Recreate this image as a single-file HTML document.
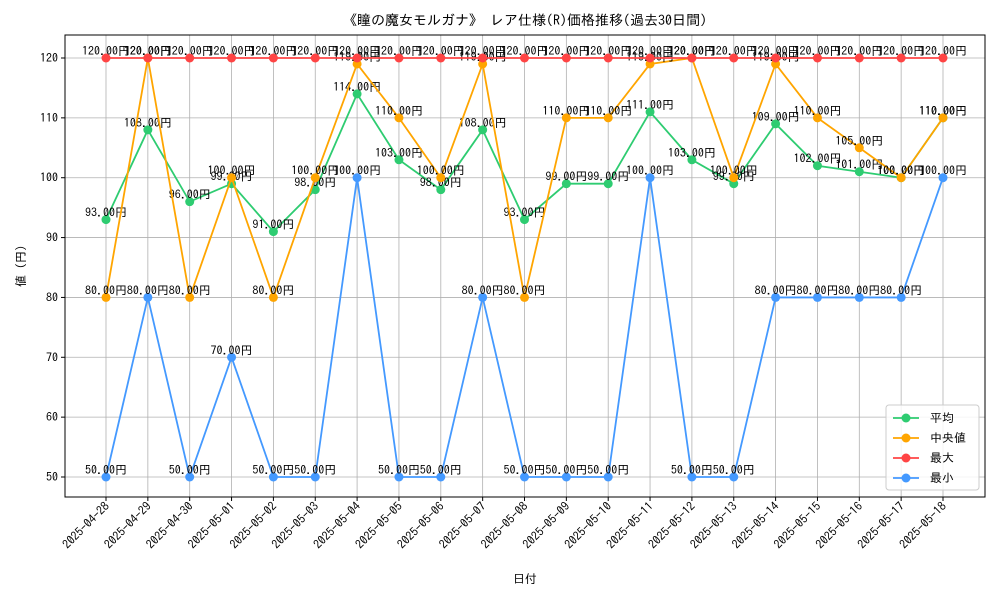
<!DOCTYPE html>
<html><head><meta charset="utf-8"><style>
body{margin:0;background:#fff}
svg text{font-family:"IPAGothic","Noto Sans CJK JP",sans-serif}
</style></head><body>
<svg id="chart" width="1000" height="600" xmlns="http://www.w3.org/2000/svg"></svg>
<script>
const dates=["2025-04-28","2025-04-29","2025-04-30","2025-05-01","2025-05-02","2025-05-03","2025-05-04","2025-05-05","2025-05-06","2025-05-07","2025-05-08","2025-05-09","2025-05-10","2025-05-11","2025-05-12","2025-05-13","2025-05-14","2025-05-15","2025-05-16","2025-05-17","2025-05-18"];
const avgVals=[93,108,96,99,91,98,114,103,98,108,93,99,99,111,103,99,109,102,101,100,110];
const medianVals=[80,120,80,100,80,100,119,110,100,119,80,110,110,119,120,100,119,110,105,100,110];
const maxVals=[120,120,120,120,120,120,120,120,120,120,120,120,120,120,120,120,120,120,120,120,120];
const minVals=[50,80,50,70,50,50,100,50,50,80,50,50,50,100,50,50,80,80,80,80,100];
const yTicks=[50,60,70,80,90,100,110,120];

const svg=document.getElementById('chart');
const NS='http://www.w3.org/2000/svg';
const L=65,R=985,T=35,B=497;
const x=i=>106+i*(943-106)/(dates.length-1);
const y=v=>477-(v-50)*(477-58)/70;
function mk(tag,attrs,parent){const e=document.createElementNS(NS,tag);for(const k in attrs)e.setAttribute(k,attrs[k]);(parent||svg).appendChild(e);return e;}

// grid
const grid=mk('g',{});


dates.forEach((d,i)=>mk('line',{x1:x(i),x2:x(i),y1:T,y2:B,stroke:'#b0b0b0','stroke-width':0.8},grid));
yTicks.forEach(v=>mk('line',{x1:L,x2:R,y1:y(v),y2:y(v),stroke:'#b0b0b0','stroke-width':0.8},grid));
const frame=mk('rect',{x:L,y:T,width:R-L,height:B-T,fill:'none',stroke:'#000','stroke-width':1});



// y ticks
yTicks.forEach(v=>{
  mk('line',{x1:L-4,x2:L,y1:y(v),y2:y(v),stroke:'#000'});
  const t=mk('text',{x:L-7,y:y(v)+4,'text-anchor':'end','font-size':12});
  t.textContent=v;
  
  
});
// x ticks
dates.forEach((d,i)=>{
  mk('line',{x1:x(i),x2:x(i),y1:B,y2:B+4,stroke:'#000'});
  const t=mk('text',{x:x(i)+4,y:B+10,'text-anchor':'end','font-size':12,transform:`rotate(-45 ${x(i)+4} ${B+10})`});
  t.textContent=d;
  
  
});

const series=[
 {name:'平均',vals:avgVals,color:'#2ecc71',key:'avg'},
 {name:'中央値',vals:medianVals,color:'#ffa500',key:'median'},
 {name:'最大',vals:maxVals,color:'#ff4444',key:'max'},
 {name:'最小',vals:minVals,color:'#4499ff',key:'min'}
];
series.forEach(s=>{
  const g=mk('g',{});
  
  
  mk('polyline',{points:s.vals.map((v,i)=>x(i)+','+y(v)).join(' '),fill:'none',stroke:s.color,'stroke-width':1.8},g);
  s.vals.forEach((v,i)=>{
    const c=mk('circle',{cx:x(i),cy:y(v),r:4.5,fill:s.color},g);
    
    
  });
  s.vals.forEach((v,i)=>{
    const t=mk('text',{x:x(i),y:y(v)-3,'text-anchor':'middle','font-size':12},g);
    t.textContent=v.toFixed(2)+'円';
    
    
  });
});

// legend
const lg=mk('g',{});


mk('rect',{x:886,y:405,width:93,height:85,rx:3,fill:'#fff','fill-opacity':0.85,stroke:'#ccc'},lg);
series.forEach((s,k)=>{
  const yy=418+k*20;
  const e=mk('g',{},lg);
  
  
  mk('line',{x1:893,x2:919,y1:yy,y2:yy,stroke:s.color,'stroke-width':1.8},e);
  mk('circle',{cx:906,cy:yy,r:4.5,fill:s.color},e);
  const t=mk('text',{x:930,y:yy+4,'font-size':12},e);
  t.textContent=s.name;
});

// titles
const title=mk('text',{x:525,y:25,'text-anchor':'middle','font-size':14});
title.textContent='《瞳の魔女モルガナ》 レア仕様(R)価格推移(過去30日間)';


const xl=mk('text',{x:525,y:583,'text-anchor':'middle','font-size':12});
xl.textContent='日付';


const yl=mk('text',{x:25,y:266,'text-anchor':'middle','font-size':12,transform:'rotate(-90 25 266)'});
yl.textContent='値 (円)';


</script>
</body></html>
